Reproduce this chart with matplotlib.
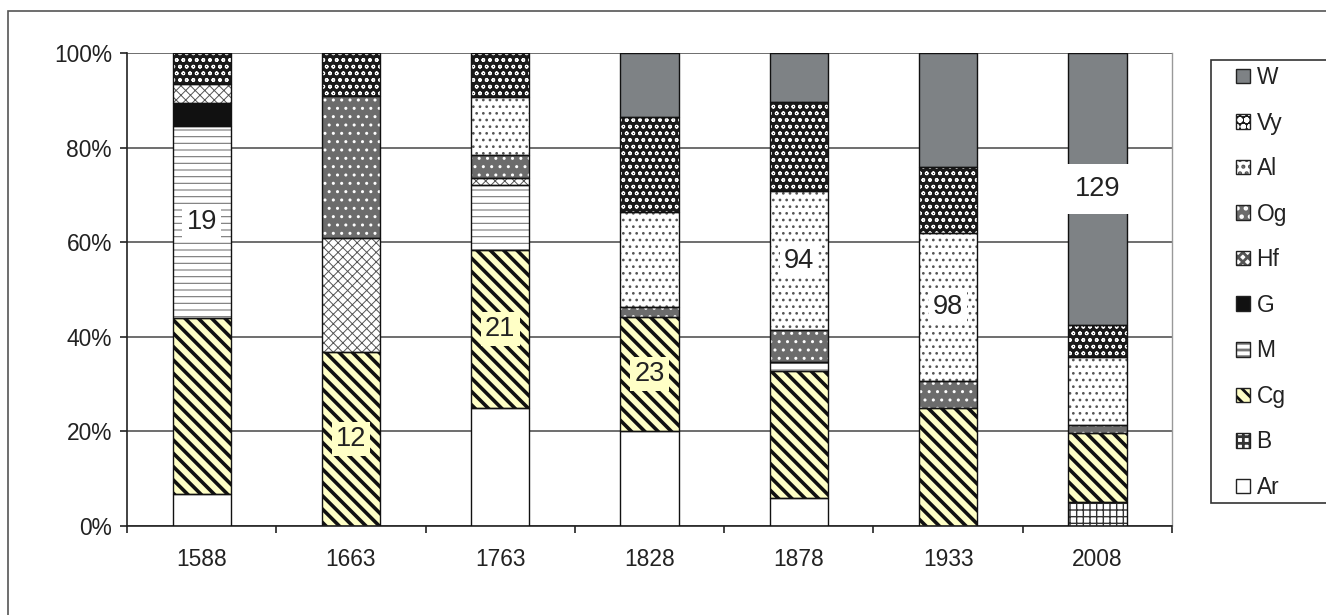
import numpy as np
import matplotlib.pyplot as plt
from matplotlib.patches import Rectangle, Patch

plt.rcParams['font.family'] = ['Liberation Sans', 'DejaVu Sans']

years = ['1588', '1663', '1763', '1828', '1878', '1933', '2008']

# shares in %, bottom to top
Ar = [6.8, 0, 25.0, 20.0, 5.9, 0, 0]
B = [0, 0, 0, 0, 0, 0, 5.1]
Cg = [37.2, 36.8, 33.4, 24.2, 26.9, 24.9, 14.5]
M = [40.6, 0, 13.6, 0, 1.9, 0, 0]
G = [4.8, 0, 0, 0, 0, 0, 0]
Hf = [4.1, 24.1, 1.6, 0, 0, 0, 0]
Og = [0, 30.0, 4.8, 2.2, 6.7, 5.8, 1.7]
Al = [0, 0, 12.3, 20.0, 29.4, 31.2, 14.4]
Vy = [6.5, 9.1, 9.3, 20.1, 18.8, 14.0, 6.8]
W = [0, 0, 0, 13.5, 10.4, 24.1, 57.5]

series = ['Ar', 'B', 'Cg', 'M', 'G', 'Hf', 'Og', 'Al', 'Vy', 'W']
values = [Ar, B, Cg, M, G, Hf, Og, Al, Vy, W]

# numbers written in the bars and the segment they sit on
label_vals = [19, 12, 21, 23, 94, 98, 129]
label_series = ['M', 'Cg', 'Cg', 'Cg', 'Al', 'Al', 'W']

# face colour, hatch colour, hatch, hatch linewidth
styles = {
    'W': ('#7e8285', '#7e8285', '', 0.5),
    'Vy': ('#1a1a1a', 'white', 'ooooo', 0.4),
    'Al': ('white', '#555555', '.....', 0.5),
    'Og': ('#6c6c6c', 'white', '....', 0.5),
    'Hf': ('white', '#555555', 'xxxxxxx', 0.35),
    'G': ('#111111', '#111111', '', 0.5),
    'M': ('white', '#777777', '-----', 0.4),
    'Cg': ('#ffffc6', '#111111', '\\\\\\\\\\', 1.3),
    'B': ('white', '#333333', '+++++', 0.5),
    'Ar': ('white', 'white', '', 0.5),
}

fig = plt.figure(figsize=(6.63, 3.075), dpi=200)
ax = fig.add_axes([0.0958, 0.1447, 0.7881, 0.7691])

x = np.arange(len(years))
width = 0.39
bottom = np.zeros(len(years))
bottoms = {}
handles = {}
for name, vals in zip(series, values):
    vals = np.array(vals, dtype=float)
    bottoms[name] = bottom.copy()
    idx = vals > 0
    fc, hc, hatch, hlw = styles[name]
    with plt.rc_context({'hatch.linewidth': hlw}):
        bars = ax.bar(x[idx], vals[idx], width, bottom=bottom[idx], color=fc,
                      edgecolor=hc, hatch=hatch, linewidth=0, zorder=2)
        h = Patch(facecolor=fc, edgecolor=hc, hatch=hatch, linewidth=0)
    for b in list(bars) + [h]:
        if hasattr(b, 'set_hatch_linewidth'):
            b.set_hatch_linewidth(hlw)
    ax.bar(x[idx], vals[idx], width, bottom=bottom[idx], fill=False,
           edgecolor='#111111', linewidth=0.5, zorder=3)
    handles[name] = (h, Patch(fill=False, edgecolor='#222222', linewidth=0.5))
    bottom = bottom + vals

for i, (val, name) in enumerate(zip(label_vals, label_series)):
    seg = values[series.index(name)][i]
    y = bottoms[name][i] + seg / 2
    fc = styles[name][0] if name != 'W' else 'white'
    pad = 0.45 if name == 'W' else 0.15
    ax.text(x[i], y, str(val), ha='center', va='center', fontsize=9.8,
            color='#222222', zorder=5,
            bbox=dict(boxstyle='square,pad=%s' % pad, fc=fc, ec='none'))

ax.set_xlim(-0.5, len(years) - 0.5)
ax.set_ylim(0, 100)
ax.set_yticks([0, 20, 40, 60, 80, 100])
ax.set_yticklabels(['%d%%' % v for v in [0, 20, 40, 60, 80, 100]])
ax.set_xticks(np.arange(len(years) + 1) - 0.5)
ax.set_xticklabels([])
ax.set_xticks(x, minor=True)
ax.set_xticklabels(years, minor=True)
ax.tick_params(axis='x', which='major', direction='out', length=2.5, width=0.6, color='#222222')
ax.tick_params(axis='x', which='minor', length=0, labelsize=8.2, pad=8, labelcolor='#222222')
ax.tick_params(axis='y', direction='out', length=2.5, width=0.6, labelsize=8.2,
               labelcolor='#222222', color='#222222', pad=3)
ax.yaxis.grid(True, color='#555555', linewidth=0.6, zorder=0)
ax.set_axisbelow(True)
ax.spines['left'].set_color('#222222')
ax.spines['bottom'].set_color('#222222')
ax.spines['left'].set_linewidth(0.6)
ax.spines['bottom'].set_linewidth(0.6)
ax.spines['top'].set_visible(False)
ax.spines['right'].set_color('#999999')
ax.spines['right'].set_linewidth(0.5)

# legend box runs off the right edge, as in the original
fig.patches.append(Rectangle((1211 / 1326, 1 - 503 / 615), 0.3, 443 / 615,
                             transform=fig.transFigure, facecolor='white',
                             edgecolor='#333333', linewidth=0.6))
leg = fig.legend([handles[n] for n in series[::-1]], series[::-1],
                 loc='upper left', bbox_to_anchor=(1236 / 1326, 1 - 66 / 615),
                 fontsize=8.2, frameon=False,
                 handlelength=0.6, handleheight=0.6, handletextpad=0.3,
                 labelspacing=0.99, borderpad=0, borderaxespad=0)
for t in leg.get_texts():
    t.set_color('#222222')

fig.patches.append(Rectangle((0.0064, -0.1), 1.2, 1.0821, transform=fig.transFigure,
                             fill=False, edgecolor='#555555', linewidth=0.6))

plt.savefig('out.png', dpi=200)
